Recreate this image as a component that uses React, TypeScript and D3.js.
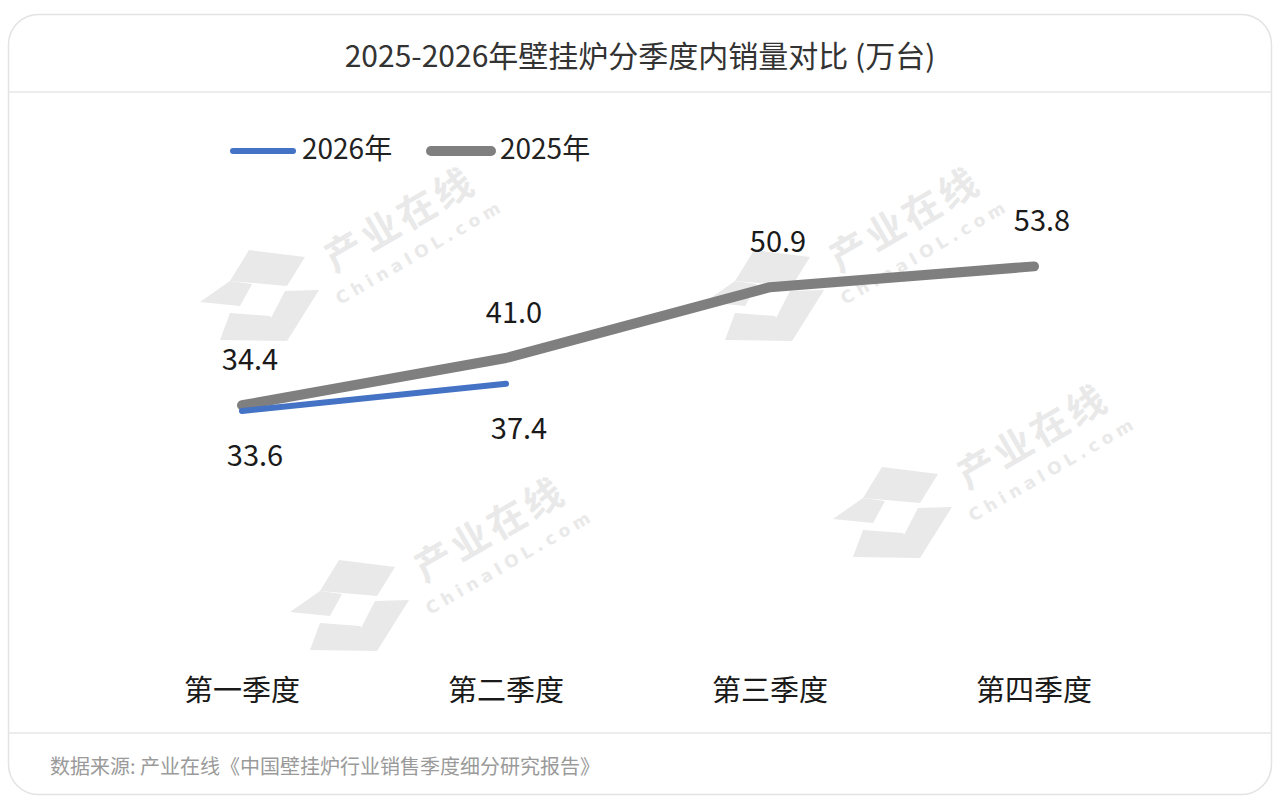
import React from "react";
import * as d3 from "d3";

const quarters = ["第一季度", "第二季度", "第三季度", "第四季度"];
const sales2026 = [33.6, 37.4];
const sales2025 = [34.4, 41.0, 50.9, 53.8];
const seriesNames = ["2026年", "2025年"];
const seriesColors = ["#4472c4", "#7f7f7f"];

const title = "2025-2026年壁挂炉分季度内销量对比 (万台)";
const source = "数据来源: 产业在线《中国壁挂炉行业销售季度细分研究报告》";

const W = 1280;
const H = 810;
const FONT = "'Noto Sans CJK SC', 'Noto Sans', sans-serif";

// watermark logo, local coords
const logoPolys = [
  [[62, 87], [118, 94], [100, 123], [43, 118]],
  [[43, 118], [65, 121], [53, 143], [13, 139]],
  [[98, 128], [132, 127], [100, 178], [83, 157]],
  [[43, 150], [83, 153], [100, 178], [33, 177]],
];
const watermarkSpots = [
  [187, 163],
  [692, 163],
  [820, 380],
  [277, 473],
];

const Watermark: React.FC<{ x: number; y: number }> = ({ x, y }) => (
  <g transform={`translate(${x},${y})`} fill="#e9e9e9">
    {logoPolys.map((p, i) => (
      <polygon key={i} points={p.map((q) => q.join(",")).join(" ")} />
    ))}
    <text
      transform="translate(220,68) rotate(-30)"
      textAnchor="middle"
      fontSize={38}
      fontWeight={700}
      fontFamily={FONT}
      letterSpacing={4}
    >
      产业在线
    </text>
    <text
      transform="translate(236,94) rotate(-30)"
      textAnchor="middle"
      fontSize={17}
      fontWeight={700}
      fontFamily="'DejaVu Sans', sans-serif"
      letterSpacing={5}
    >
      ChinaIOL.com
    </text>
  </g>
);

export default function App() {
  const x = d3.scaleBand<string>().domain(quarters).range([110, 1166]);
  const cx = (i: number) => (x(quarters[i]) ?? 0) + x.bandwidth() / 2;
  const y = d3.scaleLinear().domain([0, 60]).range([651.5, 222]);

  const line = d3
    .line<number>()
    .x((_, i) => cx(i))
    .y((d) => y(d));

  return (
    <svg width={W} height={H} style={{ position: "absolute", left: 0, top: 0 }}>
      <rect x={0} y={0} width={W} height={H} fill="#fff" />
      <rect x={8.5} y={14.5} width={1263} height={780} rx={30} fill="#fff" stroke="#e3e3e3" strokeWidth={1.5} />
      <line x1={9} x2={1271} y1={92} y2={92} stroke="#e6e6e6" strokeWidth={1.5} />
      <line x1={9} x2={1271} y1={733} y2={733} stroke="#e6e6e6" strokeWidth={1.5} />

      <text x={640} y={67} textAnchor="middle" fontSize={30} fontFamily={FONT} fill="#333">
        {title}
      </text>

      {watermarkSpots.map(([wx, wy], i) => (
        <Watermark key={i} x={wx} y={wy} />
      ))}

      {/* legend */}
      {seriesNames.map((name, i) => {
        const lx = 230 + i * 198;
        return (
          <g key={name}>
            <line
              x1={lx + 3}
              x2={lx + 63}
              y1={151}
              y2={151}
              stroke={seriesColors[i]}
              strokeWidth={i === 0 ? 6 : 10}
              strokeLinecap="round"
            />
            <text x={lx + 72} y={159} fontSize={28} fontFamily={FONT} fill="#222">
              {name}
            </text>
          </g>
        );
      })}

      {/* lines: 2025 below, 2026 on top */}
      <path d={line(sales2025) ?? ""} fill="none" stroke={seriesColors[1]} strokeWidth={10} strokeLinecap="round" strokeLinejoin="round" />
      <path d={line(sales2026) ?? ""} fill="none" stroke={seriesColors[0]} strokeWidth={6} strokeLinecap="round" strokeLinejoin="round" />

      {/* value labels */}
      {sales2025.map((v, i) => (
        <text key={"a" + i} x={cx(i) + 8} y={y(v) - 35} textAnchor="middle" fontSize={29} fontFamily={FONT} fill="#1a1a1a">
          {v.toFixed(1)}
        </text>
      ))}
      {sales2026.map((v, i) => (
        <text key={"b" + i} x={cx(i) + 13} y={y(v) + 55} textAnchor="middle" fontSize={29} fontFamily={FONT} fill="#1a1a1a">
          {v.toFixed(1)}
        </text>
      ))}

      {/* category axis labels */}
      {quarters.map((q, i) => (
        <text key={q} x={cx(i)} y={701} textAnchor="middle" fontSize={29} fontFamily={FONT} fill="#1a1a1a">
          {q}
        </text>
      ))}

      <text x={50} y={774} fontSize={20} fontFamily={FONT} fill="#9a9a9a">
        {source}
      </text>
    </svg>
  );
}
